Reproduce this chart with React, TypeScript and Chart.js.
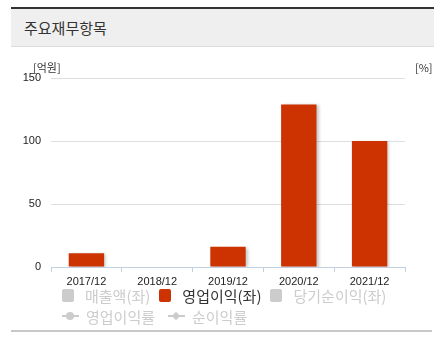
import React, { useEffect, useRef } from "react";
import { Chart, registerables } from "chart.js";

Chart.register(...registerables);

const title = "주요재무항목";
const leftUnit = "[억원]";
const rightUnit = "[%]";
const categories = ["2017/12", "2018/12", "2019/12", "2020/12", "2021/12"];
const operatingProfit = [11, 0.3, 16, 129, 100];
const yTicks = [0, 50, 100, 150];
const legendRow1 = ["매출액(좌)", "영업이익(좌)", "당기순이익(좌)"];
const legendRow1Active = [false, true, false];
const legendRow2 = ["영업이익률", "순이익률"];

const RED = "#cc3300";
const GREY = "#cccccc";
const FONT = '"Noto Sans CJK KR", "Noto Sans", sans-serif';

const shadowPlugin = {
  id: "barShadow",
  beforeDatasetDraw(chart: any) {
    const ctx = chart.ctx;
    ctx.save();
    ctx.shadowColor = "rgba(0,0,0,0.22)";
    ctx.shadowOffsetX = 2;
    ctx.shadowOffsetY = 1;
    ctx.shadowBlur = 3;
  },
  afterDatasetDraw(chart: any) {
    chart.ctx.restore();
  },
};

function ChartCanvas() {
  const ref = useRef<HTMLCanvasElement | null>(null);
  useEffect(() => {
    if (!ref.current) return;
    const chart = new Chart(ref.current, {
      type: "bar",
      data: {
        labels: categories,
        datasets: [
          {
            label: legendRow1[1],
            data: operatingProfit,
            backgroundColor: RED,
            borderWidth: 0,
            categoryPercentage: 1,
            barPercentage: 0.5,
          },
        ],
      },
      plugins: [shadowPlugin],
      options: {
        animation: false,
        responsive: false,
        maintainAspectRatio: false,
        layout: { padding: { top: 20, right: 29, left: 0, bottom: 0 } },
        plugins: { legend: { display: false }, tooltip: { enabled: false } },
        scales: {
          x: {
            offset: true,
            grid: {
              display: true,
              offset: true,
              drawOnChartArea: false,
              drawTicks: true,
              tickLength: 5,
              color: "#c0d0e0",
            },
            border: { display: true, color: "#c0d0e0", width: 1 },
            ticks: {
              color: "#222",
              padding: 3,
              font: { family: '"Liberation Sans", Arial, sans-serif', size: 11 },
              maxRotation: 0,
            },
            afterFit(scale: any) {
              scale.height = 21;
            },
          },
          y: {
            min: yTicks[0],
            max: yTicks[yTicks.length - 1],
            afterBuildTicks(scale: any) {
              scale.ticks = yTicks.map((v) => ({ value: v }));
            },
            grid: {
              drawTicks: false,
              color: (c: any) => (c.tick && c.tick.value === 0 ? "rgba(0,0,0,0)" : "#dedede"),
            },
            border: { display: false },
            ticks: {
              color: "#222",
              padding: 10,
              font: { family: '"Liberation Sans", Arial, sans-serif', size: 11 },
            },
            afterFit(scale: any) {
              scale.width = 51;
            },
          },
        },
      },
    });
    return () => chart.destroy();
  }, []);
  return (
    <canvas
      ref={ref}
      width={434}
      height={230}
      style={{ position: "absolute", left: 0, top: 58, width: 434, height: 230 }}
    />
  );
}

function SquareIcon({ color }: { color: string }) {
  return (
    <span
      style={{
        display: "inline-block",
        width: 12,
        height: 13,
        borderRadius: 2,
        background: color,
        marginRight: 11,
        flex: "none",
      }}
    />
  );
}

function LineIcon({ shape }: { shape: "circle" | "diamond" }) {
  return (
    <span style={{ position: "relative", display: "inline-block", width: 17, height: 12, marginRight: 7, flex: "none" }}>
      <span style={{ position: "absolute", left: 0, right: 0, top: 5, height: 2, background: GREY }} />
      {shape === "circle" ? (
        <span style={{ position: "absolute", left: 4, top: 2, width: 8, height: 8, borderRadius: 4, background: GREY }} />
      ) : (
        <span
          style={{
            position: "absolute",
            left: 5,
            top: 3,
            width: 6,
            height: 6,
            background: GREY,
            transform: "rotate(45deg)",
          }}
        />
      )}
    </span>
  );
}

export default function App() {
  return (
    <div
      style={{
        position: "absolute",
        left: 0,
        top: 0,
        width: 434,
        height: 353,
        background: "#fff",
        overflow: "hidden",
        fontFamily: FONT,
      }}
    >
      <div style={{ position: "absolute", left: 11, top: 7, right: 0, height: 2, background: "#333" }} />
      <div
        style={{
          position: "absolute",
          left: 11,
          top: 9,
          right: 0,
          height: 37,
          background: "#efefef",
          borderBottom: "1px solid #dcdcdc",
        }}
      />
      <div
        style={{
          position: "absolute",
          left: 24,
          top: 9,
          height: 38,
          lineHeight: "38px",
          fontSize: 15,
          color: "#333",
          whiteSpace: "nowrap",
        }}
      >
        {title}
      </div>
      <ChartCanvas />
      <div style={{ position: "absolute", left: 33, top: 59, fontSize: 11, lineHeight: "16px", color: "#333" }}>
        {leftUnit}
      </div>
      <div style={{ position: "absolute", left: 415, top: 59, fontSize: 11, lineHeight: "16px", color: "#333" }}>
        {rightUnit}
      </div>
      <div
        style={{
          position: "absolute",
          left: 62,
          top: 285,
          height: 20,
          display: "flex",
          alignItems: "center",
          fontSize: 15,
          whiteSpace: "nowrap",
        }}
      >
        {legendRow1.map((t, i) => (
          <span key={t} style={{ display: "flex", alignItems: "center", marginRight: 9 }}>
            <SquareIcon color={legendRow1Active[i] ? RED : GREY} />
            <span style={{ color: legendRow1Active[i] ? "#333" : GREY }}>{t}</span>
          </span>
        ))}
      </div>
      <div
        style={{
          position: "absolute",
          left: 62,
          top: 306,
          height: 20,
          display: "flex",
          alignItems: "center",
          fontSize: 15,
          whiteSpace: "nowrap",
        }}
      >
        {legendRow2.map((t, i) => (
          <span key={t} style={{ display: "flex", alignItems: "center", marginRight: 13 }}>
            <LineIcon shape={i === 0 ? "circle" : "diamond"} />
            <span style={{ color: GREY }}>{t}</span>
          </span>
        ))}
      </div>
      <div style={{ position: "absolute", left: 11, right: 2, top: 330, height: 2, background: "#c8c8c8" }} />
    </div>
  );
}
